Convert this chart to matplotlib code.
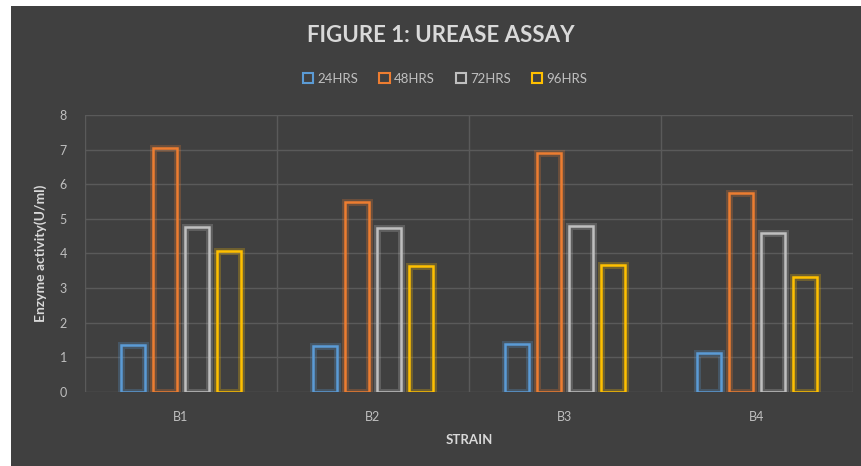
import numpy as np
import matplotlib
matplotlib.use("Agg")
import matplotlib.pyplot as plt
import matplotlib.patheffects as pe
from matplotlib.patches import Rectangle

# ── data ─────────────────────────────────────────────
strains = ["B1", "B2", "B3", "B4"]
series = ["24HRS", "48HRS", "72HRS", "96HRS"]
hrs24 = [1.36, 1.32, 1.37, 1.13]
hrs48 = [7.06, 5.48, 6.89, 5.74]
hrs72 = [4.76, 4.72, 4.79, 4.58]
hrs96 = [4.06, 3.63, 3.67, 3.33]

# ── style ────────────────────────────────────────────
BG = "#404040"
GRID = "#5A5A5A"
TXT = "#BFBFBF"
COLORS = ["#5B9BD5", "#ED7D31", "#BFBFBF", "#FFC000"]
plt.rcParams["font.family"] = ["Lato", "DejaVu Sans"]

fig = plt.figure(figsize=(8.61, 4.66), dpi=100, facecolor="white")
fig.patches.append(Rectangle((11 / 861, 0), 1, 1 - 6 / 466, transform=fig.transFigure,
                             facecolor=BG, edgecolor="none", zorder=-10))

ax = fig.add_axes([85 / 861, 1 - 391.7 / 466, (853 - 85) / 861, (391.7 - 115) / 466])
ax.set_facecolor("none")

x = np.arange(1, len(strains) + 1)
step, width = 0.167, 0.122
offsets = [-1.5 * step, -0.5 * step, 0.5 * step, 1.5 * step]

for vals, off, col in zip([hrs24, hrs48, hrs72, hrs96], offsets, COLORS):
    bars = ax.bar(x + off, vals, width=width, facecolor="none", edgecolor=col,
                  linewidth=1.8, zorder=3)
    for b in bars:
        b.set_path_effects([pe.Stroke(linewidth=5, foreground=col, alpha=0.25), pe.Normal()])

ax.set_xlim(0.5, 4.5)
ax.set_ylim(0, 8)
ax.set_yticks(range(0, 9))
ax.set_xticks(x)
ax.set_xticklabels(strains)
ax.set_xticks(np.arange(0.5, 4.6, 1.0), minor=True)
ax.grid(True, axis="y", which="major", color=GRID, linewidth=1, zorder=0)
ax.grid(True, axis="x", which="minor", color=GRID, linewidth=1, zorder=0)
ax.grid(False, axis="x", which="major")
for s in ax.spines.values():
    s.set_visible(False)
ax.tick_params(which="both", length=0, colors=TXT, labelsize=9)
ax.tick_params(axis="y", pad=13)
ax.tick_params(axis="x", pad=14)

ax.set_ylabel("Enzyme activity(U/ml)", color="#D9D9D9", fontsize=10, fontweight="bold", labelpad=9)
ax.set_xlabel("STRAIN", color="#D9D9D9", fontsize=9.5, fontweight="bold", labelpad=8)

fig.text(441 / 861, 1 - 36 / 466, "FIGURE 1: UREASE ASSAY", ha="center", va="center",
         color="#D9D9D9", fontsize=16, fontweight="bold")

handles = [Rectangle((0, 0), 1, 1, facecolor="none", edgecolor=c, linewidth=1.5) for c in COLORS]
fig.legend(handles, series, loc="center", bbox_to_anchor=(445 / 861, 1 - 79 / 466), ncol=4,
           frameon=False, fontsize=9.5, labelcolor=TXT, handlelength=0.8, handleheight=0.8,
           handletextpad=0.3, columnspacing=1.6)

fig.savefig("out.png", dpi=100, facecolor=fig.get_facecolor())
